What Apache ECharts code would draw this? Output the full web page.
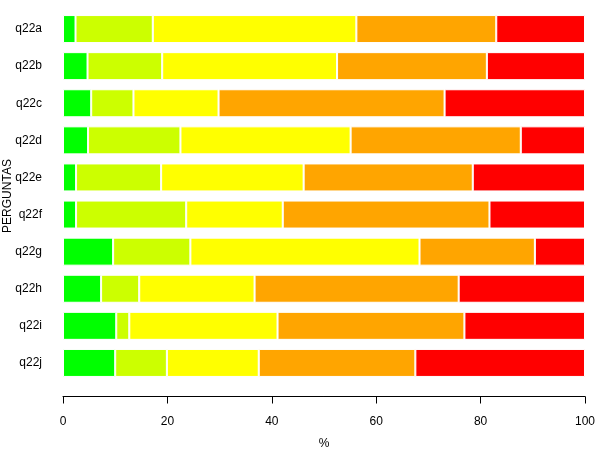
<!DOCTYPE html>
<html>
<head>
<meta charset="utf-8">
<script src="https://cdn.jsdelivr.net/npm/echarts@6/dist/echarts.min.js"></script>
<style>
  html, body { margin: 0; padding: 0; background: #fff; }
  #chart { width: 600px; height: 450px; }
</style>
</head>
<body>
<div id="chart"></div>
<script>
  // perguntas, de cima para baixo
  var perguntas = ['q22a', 'q22b', 'q22c', 'q22d', 'q22e', 'q22f', 'q22g', 'q22h', 'q22i', 'q22j']

  // percentagens por nivel de resposta
  var nivel1 = [2.4, 4.7, 5.4, 4.8, 2.5, 2.5, 9.6, 7.3, 10.2, 10.0]
  var nivel2 = [14.8, 14.3, 8.1, 17.7, 16.3, 21.1, 14.8, 7.3, 2.5, 9.9]
  var nivel3 = [39.0, 33.5, 16.3, 32.6, 27.3, 18.5, 43.9, 22.1, 28.4, 17.6]
  var nivel4 = [26.8, 28.7, 43.3, 32.6, 32.4, 39.6, 22.1, 39.1, 35.8, 30.0]
  var nivel5 = [17.0, 18.8, 26.9, 12.3, 21.5, 18.3, 9.6, 24.2, 23.1, 32.5]

  var cores = ['#00ff00', '#ccff00', '#ffff00', '#ffa500', '#ff0000']
  var niveis = [nivel1, nivel2, nivel3, nivel4, nivel5]

  var fonte = 'Liberation Sans, Arial, sans-serif'

  var chart = echarts.init(document.getElementById('chart'))
  chart.setOption({
    animation: false,
    grid: {
      left: 63,
      right: 15,
      top: 10.5,
      height: 371,
      containLabel: false,
      outerBoundsMode: 'none'
    },
    xAxis: {
      type: 'value',
      min: 0,
      max: 100,
      interval: 20,
      offset: 15,
      name: '%',
      nameLocation: 'middle',
      nameGap: 41,
      nameMoveOverlap: false,
      nameTextStyle: { color: '#000', fontSize: 12, fontFamily: fonte },
      splitLine: { show: false },
      axisLine: { show: true, lineStyle: { color: '#000', width: 1 } },
      axisTick: { show: true, length: 7, lineStyle: { color: '#000' } },
      axisLabel: { color: '#000', fontSize: 12, fontFamily: fonte, margin: 19 }
    },
    yAxis: {
      type: 'category',
      inverse: true,
      data: perguntas,
      name: 'PERGUNTAS',
      nameLocation: 'middle',
      nameGap: 49,
      nameMoveOverlap: false,
      nameTextStyle: { color: '#000', fontSize: 12, fontFamily: fonte },
      axisLine: { show: false },
      axisTick: { show: false },
      axisLabel: { color: '#000', fontSize: 12, fontFamily: fonte, margin: 21 }
    },
    series: niveis.map(function (dados, i) {
      return {
        type: 'bar',
        stack: 'total',
        data: dados,
        barWidth: 28,
        itemStyle: { color: cores[i], borderColor: '#fff', borderWidth: 1 }
      }
    })
  })
</script>
</body>
</html>
